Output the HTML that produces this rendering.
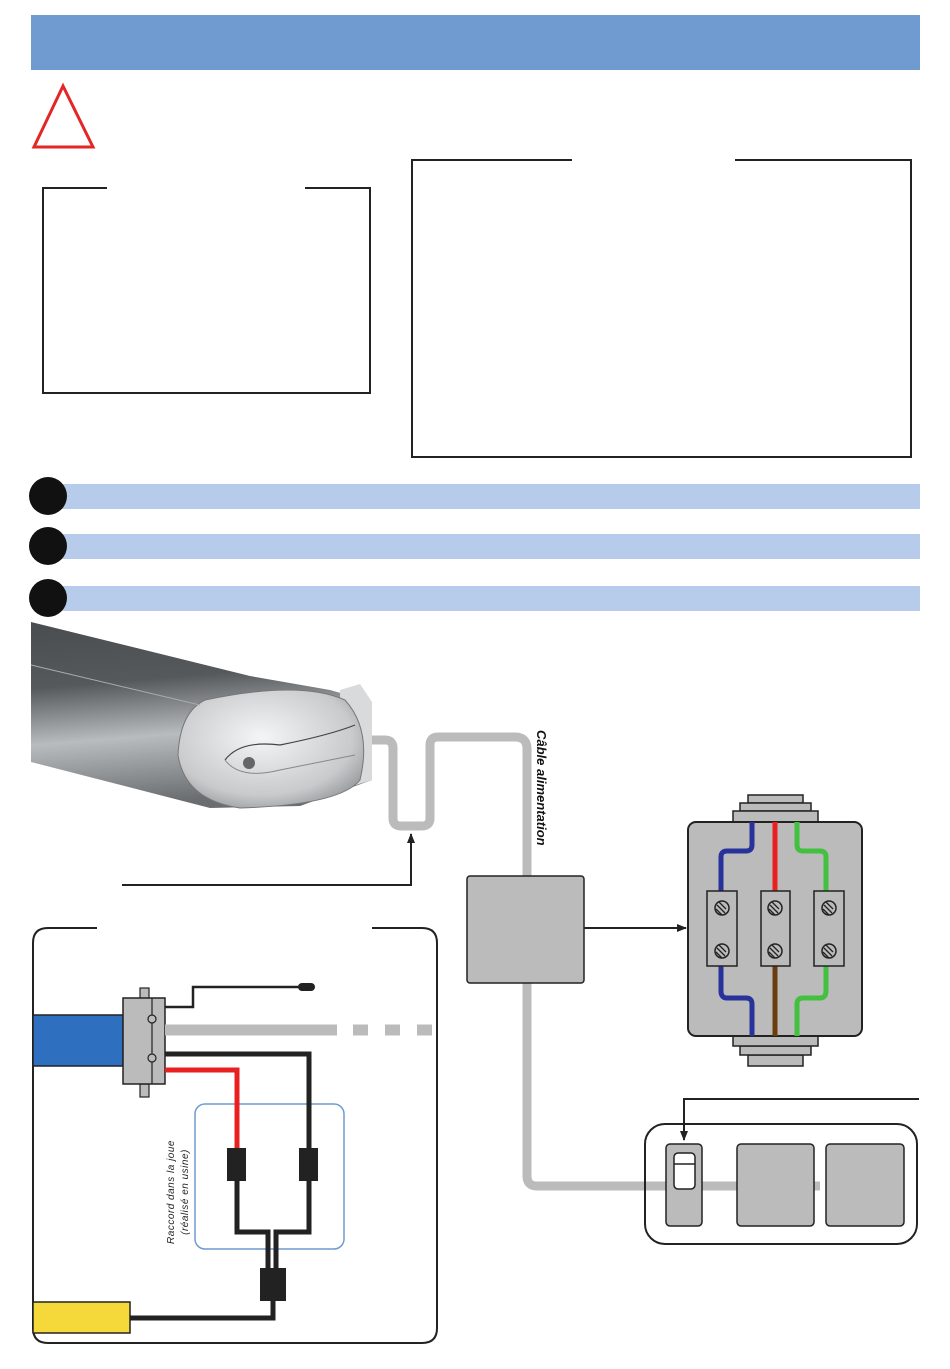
<!DOCTYPE html>
<html><head><meta charset="utf-8"><style>html,body{margin:0;padding:0;background:#fff}svg{display:block}</style></head>
<body>
<svg width="950" height="1369" viewBox="0 0 950 1369" xmlns="http://www.w3.org/2000/svg" font-family="Liberation Sans, sans-serif">
<defs>
<linearGradient id="tube" x1="0" y1="0" x2="0.15" y2="1">
<stop offset="0" stop-color="#4a4d4f"/><stop offset="0.35" stop-color="#55595b"/><stop offset="0.65" stop-color="#b9bcbe"/><stop offset="1" stop-color="#6b6e70"/></linearGradient>
<radialGradient id="cap" cx="0.45" cy="0.4" r="0.7"><stop offset="0" stop-color="#f4f5f6"/><stop offset="0.7" stop-color="#c8cacc"/><stop offset="1" stop-color="#8d9092"/></radialGradient>
<marker id="ar" markerWidth="10" markerHeight="10" refX="9" refY="5" orient="auto" markerUnits="userSpaceOnUse"><path d="M0,1 L10,5 L0,9 z" fill="#222"/></marker>
</defs>
<rect x="31" y="15" width="889" height="55" fill="#6f9bd1"/>
<polygon points="63,86 34,147 93,147" fill="none" stroke="#e32626" stroke-width="3"/>
<path d="M107,188 H43 V393 H370 V188 H305" fill="none" stroke="#222" stroke-width="2"/>
<path d="M572,160 H412 V457 H911 V160 H735" fill="none" stroke="#222" stroke-width="2"/>
<rect x="55" y="484" width="865" height="25" fill="#b7cbea"/>
<rect x="55" y="534" width="865" height="25" fill="#b7cbea"/>
<rect x="55" y="586" width="865" height="25" fill="#b7cbea"/>
<circle cx="48" cy="496" r="19" fill="#111"/>
<circle cx="48" cy="546" r="19" fill="#111"/>
<circle cx="48" cy="598" r="19" fill="#111"/>
<!-- motor -->
<polygon points="31,622 250,676 330,690 372,702 372,780 300,806 210,808 31,762" fill="url(#tube)"/>
<polygon points="340,690 360,684 372,702 372,780 340,790" fill="#d8dadb"/>
<path d="M205,700 Q300,680 345,700 Q372,730 360,780 Q340,805 240,808 Q185,800 178,755 Q180,712 205,700 z" fill="url(#cap)" stroke="#777" stroke-width="1"/>
<path d="M225,760 Q240,740 280,745 Q330,735 355,725" fill="none" stroke="#444" stroke-width="1.2"/>
<path d="M225,760 Q240,780 280,770 Q330,760 355,755" fill="none" stroke="#888" stroke-width="1"/>
<circle cx="249" cy="763" r="6" fill="#666"/>
<line x1="31" y1="665" x2="200" y2="705" stroke="#aaa" stroke-width="1"/>
<!-- cable -->
<path d="M372,740 H385 Q393,740 393,748 V818 Q393,826 401,826 H422 Q430,826 430,818 V745 Q430,737 438,737 H515 Q527,737 527,749 V1176 Q527,1186 537,1186 H820" fill="none" stroke="#bbbbbb" stroke-width="9"/>
<text transform="translate(537,730) rotate(90)" font-size="13" font-weight="bold" font-style="italic" fill="#111">Câble alimentation</text>
<path d="M122,885 H411 V834" fill="none" stroke="#222" stroke-width="2" marker-end="url(#ar)"/>
<rect x="467" y="876" width="117" height="107" rx="3" fill="#bbb" stroke="#222" stroke-width="1.5"/>
<line x1="584" y1="928" x2="686" y2="928" stroke="#222" stroke-width="2" marker-end="url(#ar)"/>
<!-- junction box -->
<g stroke="#222" stroke-width="1.5" fill="#bbb">
<rect x="748" y="795" width="55" height="8"/><rect x="740" y="803" width="71" height="8"/><rect x="733" y="811" width="85" height="11"/>
<rect x="748" y="1055" width="55" height="11"/><rect x="740" y="1046" width="71" height="9"/><rect x="733" y="1036" width="85" height="10"/>
<rect x="688" y="822" width="174" height="214" rx="8" stroke-width="2"/>
</g>
<g fill="none" stroke-width="5">
<path d="M752,822 V845 Q752,851 746,851 H727 Q721,851 721,857 V891" stroke="#27339a"/>
<path d="M721,966 V991 Q721,998 727,998 H746 Q752,998 752,1004 V1036" stroke="#27339a"/>
<path d="M775,822 V891" stroke="#e82020"/>
<path d="M775,966 V1036" stroke="#6b3c10"/>
<path d="M797,822 V845 Q797,851 803,851 H820 Q826,851 826,857 V891" stroke="#44c040"/>
<path d="M826,966 V991 Q826,998 820,998 H803 Q797,998 797,1004 V1036" stroke="#44c040"/>
</g>
<g stroke="#222" stroke-width="1.5" fill="#bbb">
<rect x="707" y="891" width="30" height="75"/><rect x="761" y="891" width="29" height="75"/><rect x="814" y="891" width="30" height="75"/>
</g>
<g stroke="#222" stroke-width="1.5" fill="#bbb">
<circle cx="722" cy="908" r="7"/><circle cx="722" cy="951" r="7"/>
<circle cx="775" cy="908" r="7"/><circle cx="775" cy="951" r="7"/>
<circle cx="829" cy="908" r="7"/><circle cx="829" cy="951" r="7"/>
</g>
<g stroke="#222" stroke-width="1.3">
<path d="M717,905 l8,8 M719,902 l7,7 M716,909 l6,6"/><path d="M717,948 l8,8 M719,945 l7,7 M716,952 l6,6"/>
<path d="M770,905 l8,8 M772,902 l7,7 M769,909 l6,6"/><path d="M770,948 l8,8 M772,945 l7,7 M769,952 l6,6"/>
<path d="M824,905 l8,8 M826,902 l7,7 M823,909 l6,6"/><path d="M824,948 l8,8 M826,945 l7,7 M823,952 l6,6"/>
</g>
<!-- switch panel -->
<rect x="645" y="1124" width="272" height="120" rx="20" fill="none" stroke="#222" stroke-width="2"/>
<rect x="666" y="1144" width="36" height="82" rx="4" fill="#bbb" stroke="#222" stroke-width="1.5"/>
<rect x="674" y="1153" width="21" height="36" rx="4" fill="#fff" stroke="#222" stroke-width="1.5"/>
<line x1="674" y1="1164" x2="695" y2="1164" stroke="#222" stroke-width="1.5"/>
<rect x="737" y="1144" width="77" height="82" rx="4" fill="#bbb" stroke="#222" stroke-width="1.5"/>
<rect x="826" y="1144" width="78" height="82" rx="4" fill="#bbb" stroke="#222" stroke-width="1.5"/>
<path d="M919,1099 H684 V1140" fill="none" stroke="#222" stroke-width="2" marker-end="url(#ar)"/>
<!-- bottom left box -->
<path d="M97,928 H48 Q33,928 33,943 V1328 Q33,1343 48,1343 H422 Q437,1343 437,1328 V943 Q437,928 422,928 H372" fill="none" stroke="#222" stroke-width="2"/>
<rect x="33" y="1015" width="90" height="51" fill="#2f6fc0" stroke="#222" stroke-width="1.5"/>
<rect x="140" y="988" width="9" height="11" fill="#bbb" stroke="#222" stroke-width="1.2"/>
<rect x="140" y="1084" width="9" height="13" fill="#bbb" stroke="#222" stroke-width="1.2"/>
<rect x="123" y="998" width="42" height="86" fill="#bbb" stroke="#222" stroke-width="1.5"/>
<line x1="152" y1="998" x2="152" y2="1084" stroke="#222" stroke-width="1.2"/>
<circle cx="152" cy="1019" r="4" fill="#bbb" stroke="#222" stroke-width="1.2"/>
<circle cx="152" cy="1058" r="4" fill="#bbb" stroke="#222" stroke-width="1.2"/>
<path d="M165,1007 H193 V987 H305" fill="none" stroke="#222" stroke-width="2.5"/>
<rect x="298" y="983" width="17" height="8" rx="4" fill="#222"/>
<g stroke="#bbb" stroke-width="11"><line x1="165" y1="1030" x2="337" y2="1030"/><line x1="353" y1="1030" x2="368" y2="1030"/><line x1="385" y1="1030" x2="400" y2="1030"/><line x1="417" y1="1030" x2="432" y2="1030"/></g>
<rect x="195" y="1104" width="149" height="145" rx="10" fill="none" stroke="#6f9bd1" stroke-width="1.5"/>
<path d="M165,1054 H309 V1150" fill="none" stroke="#222" stroke-width="5"/>
<path d="M165,1070 H237 V1150" fill="none" stroke="#e82020" stroke-width="5"/>
<path d="M237,1180 V1232 H268 V1270 M309,1180 V1232 H276 V1270" fill="none" stroke="#222" stroke-width="5"/>
<rect x="227" y="1148" width="19" height="33" fill="#222"/>
<rect x="299" y="1148" width="19" height="33" fill="#222"/>
<rect x="260" y="1268" width="26" height="33" fill="#222"/>
<path d="M273,1301 V1318 H130" fill="none" stroke="#222" stroke-width="5"/>
<rect x="33" y="1302" width="97" height="31" fill="#f5d93a" stroke="#222" stroke-width="1.5"/>
<text transform="translate(174,1192) rotate(-90)" font-size="10" font-style="italic" text-anchor="middle" fill="#222" letter-spacing="0.5">Raccord dans la joue</text>
<text transform="translate(188,1192) rotate(-90)" font-size="10" font-style="italic" text-anchor="middle" fill="#222" letter-spacing="0.5">(réalisé en usine)</text>
</svg>
</body></html>
